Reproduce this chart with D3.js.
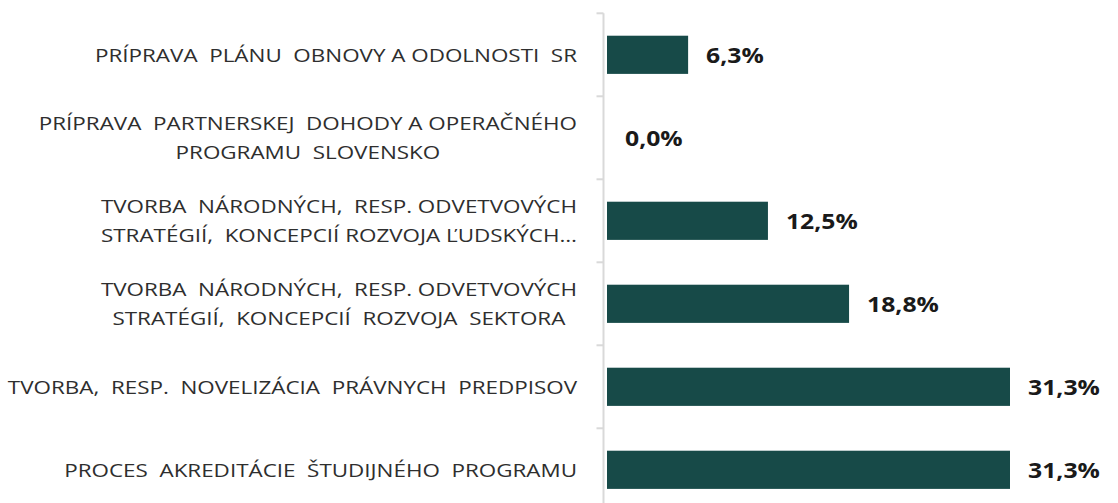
<!DOCTYPE html>
<html>
<head>
<meta charset="utf-8">
<script src="https://cdn.jsdelivr.net/npm/d3@7/dist/d3.min.js"></script>
<style>
  html, body { margin: 0; padding: 0; background: #ffffff; }
  svg { display: block; }
  .cat { font-family: "Open Sans", sans-serif; font-size: 19px; fill: #2e2e2e; white-space: pre; }
  .val { font-family: "Open Sans", sans-serif; font-size: 21px; font-weight: 700; fill: #1a1a1a; }
</style>
</head>
<body>
<svg id="chart" width="1118" height="503"></svg>
<script>
// Categories (top to bottom); "\n" marks a line break in the label
const categories = [
  "PRÍPRAVA  PLÁNU  OBNOVY A ODOLNOSTI  SR",
  "PRÍPRAVA  PARTNERSKEJ  DOHODY A OPERAČNÉHO\nPROGRAMU  SLOVENSKO",
  "TVORBA  NÁRODNÝCH,  RESP. ODVETVOVÝCH\nSTRATÉGIÍ,  KONCEPCIÍ ROZVOJA ĽUDSKÝCH…",
  "TVORBA  NÁRODNÝCH,  RESP. ODVETVOVÝCH\nSTRATÉGIÍ,  KONCEPCIÍ  ROZVOJA  SEKTORA",
  "TVORBA,  RESP.  NOVELIZÁCIA  PRÁVNYCH  PREDPISOV",
  "PROCES  AKREDITÁCIE  ŠTUDIJNÉHO  PROGRAMU"
];
// Share of respondents, percent
const values = [6.3, 0.0, 12.5, 18.8, 31.3, 31.3];
// Value labels as printed next to the bars
const valueLabels = ["6,3%", "0,0%", "12,5%", "18,8%", "31,3%", "31,3%"];

const svg = d3.select("#chart");

const x = d3.scaleLinear().domain([0, 31.3]).range([607, 1010]);
const y = d3.scaleBand().domain(categories).range([13.3, 511.3]).paddingInner(0.54).paddingOuter(0.27);

const barColor = "#174a48";
const axisColor = "#d9d9d9";
const stretch = 1.18; // horizontal widening of the text glyphs

// Scale a text element horizontally about its anchor point
const widen = ax => `translate(${ax},0) scale(${stretch},1) translate(${-ax},0)`;

// Category axis: vertical line with ticks at band boundaries
const axisX = 603.5;
svg.append("line")
  .attr("x1", axisX).attr("x2", axisX)
  .attr("y1", y.range()[0]).attr("y2", y.range()[1])
  .attr("stroke", axisColor).attr("stroke-width", 2);

const boundaries = d3.range(categories.length + 1)
  .map(i => y.range()[0] + i * (y.range()[1] - y.range()[0]) / categories.length);
svg.selectAll("line.tick").data(boundaries).join("line")
  .attr("class", "tick")
  .attr("x1", axisX - 7).attr("x2", axisX)
  .attr("y1", d => d).attr("y2", d => d)
  .attr("stroke", axisColor).attr("stroke-width", 2);

// Bars
svg.selectAll("rect.bar").data(values).join("rect")
  .attr("class", "bar")
  .attr("x", x(0))
  .attr("y", (d, i) => y(categories[i]))
  .attr("width", d => x(d) - x(0))
  .attr("height", y.bandwidth())
  .attr("fill", barColor);

// Category labels: the text block is right aligned against the axis,
// lines within a wrapped label are centred on each other
const labelX = 577;
const lineGap = 28.5;
const catCap = 6.8;
svg.selectAll("g.cat").data(categories).join("g")
  .attr("class", "cat-group")
  .attr("transform", widen(labelX))
  .each(function(d) {
    const g = d3.select(this);
    const lines = d.split("\n");
    const cy = y(d) + y.bandwidth() / 2;
    const first = cy + catCap - (lines.length - 1) * lineGap / 2;
    const texts = g.selectAll("text").data(lines).join("text")
      .attr("class", "cat")
      .attr("y", (l, j) => first + j * lineGap)
      .text(l => l);
    const widths = texts.nodes().map(n => n.getComputedTextLength());
    const maxW = d3.max(widths);
    texts
      .attr("text-anchor", "middle")
      .attr("x", labelX - maxW / 2);
  });

// Value labels to the right of each bar
svg.selectAll("text.val").data(values).join("text")
  .attr("class", "val")
  .attr("x", d => x(d) + 18)
  .attr("y", (d, i) => y(categories[i]) + y.bandwidth() / 2 + 8)
  .attr("transform", d => widen(x(d) + 18))
  .text((d, i) => valueLabels[i]);
</script>
</body>
</html>
